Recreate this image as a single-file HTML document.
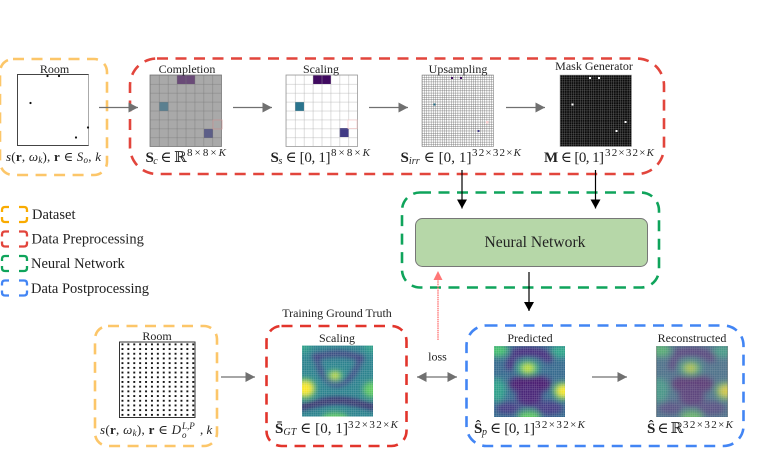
<!DOCTYPE html>
<html><head><meta charset="utf-8"><style>
html,body{margin:0;padding:0;background:#fff}
svg{display:block}
text{font-family:"Liberation Serif","DejaVu Serif",serif;fill:#222}
.l{font-size:12px;text-anchor:middle}
.m{font-size:15px}
.s{font-size:11px}
</style></head><body>
<svg width="781" height="450" viewBox="0 0 781 450" xmlns="http://www.w3.org/2000/svg">
<defs>
<marker id="g" markerUnits="userSpaceOnUse" markerWidth="10" markerHeight="11" refX="9.500" refY="5.500" orient="auto-start-reverse"><path d="M0 0.500L9.500 5.500L0 10.500Z" fill="#707070"/></marker>
<marker id="b" markerUnits="userSpaceOnUse" markerWidth="10" markerHeight="10" refX="9" refY="5" orient="auto"><path d="M0 0L9 5L0 10Z" fill="#000"/></marker>
<pattern id="g8" width="8.94" height="8.94" patternUnits="userSpaceOnUse" x="150" y="75"><path d="M0 0H8.94M0 0V8.94" stroke="#777" stroke-width=".8" fill="none"/></pattern>
<pattern id="s8" width="8.94" height="8.94" patternUnits="userSpaceOnUse" x="286" y="75"><path d="M0 0H8.94M0 0V8.94" stroke="#aaa" stroke-width=".8" fill="none"/></pattern>
<pattern id="u" width="2.23" height="2.23" patternUnits="userSpaceOnUse" x="422" y="75"><path d="M0 0H2.23M0 0V2.23" stroke="#555" stroke-width=".65" fill="none"/></pattern>
<pattern id="mk" width="2.23" height="2.23" patternUnits="userSpaceOnUse" x="560" y="75"><path d="M0 0H2.23M0 0V2.23" stroke="#fff" stroke-opacity=".55" stroke-width=".55" fill="none"/></pattern>
<pattern id="dots" width="5.900" height="4.700" patternUnits="userSpaceOnUse" x="119.500" y="342"><rect x="2" y="1.400" width="1.900" height="1.900" fill="#111"/></pattern>
<pattern id="hg" width="2.23" height="2.23" patternUnits="userSpaceOnUse"><path d="M0 0H2.23M0 0V2.23" stroke="#fff" stroke-opacity=".3" stroke-width=".7" fill="none"/></pattern>
<filter id="bl" x="-30%" y="-30%" width="160%" height="160%"><feGaussianBlur stdDeviation="3"/></filter>
<clipPath id="c1"><rect x="0" y="0" width="71" height="71"/></clipPath>
<g id="gt"><g clip-path="url(#c1)"><rect width="71" height="71" fill="#2c838e"/><g filter="url(#bl)">
<path d="M10 11C22 10 28 8 36 8C44 8 52 10 62 13" stroke="#46307e" stroke-width="5" fill="none"/>
<path d="M15 13C18 30 26 38 35 39C46 38 54 28 58 14" stroke="#443a83" stroke-width="4.500" fill="none"/>
<path d="M-4 62C14 58 24 55 35 55C46 55 58 58 75 62" stroke="#440f62" stroke-width="5" fill="none"/>
<ellipse cx="33" cy="30" rx="8" ry="5.500" fill="#35b779"/><ellipse cx="33" cy="30" rx="4.500" ry="3" fill="#dce319"/>
<ellipse cx="3" cy="43" rx="11" ry="10" fill="#5ec962"/><ellipse cx="3" cy="43" rx="8" ry="7" fill="#fde725"/>
<ellipse cx="70" cy="44" rx="9" ry="8" fill="#5ec962"/>
<ellipse cx="33" cy="73" rx="13" ry="6" fill="#5ec962"/>
<ellipse cx="1" cy="1" rx="8" ry="6" fill="#2fa08a"/><ellipse cx="70" cy="1" rx="8" ry="6" fill="#2fa08a"/>
</g></g><rect width="71" height="71" fill="url(#hg)"/></g>
<g id="pr"><g clip-path="url(#c1)"><rect width="71" height="71" fill="#366a8e"/><g filter="url(#bl)">
<ellipse cx="4" cy="4" rx="10" ry="7" fill="#44bf70"/><ellipse cx="67" cy="5" rx="10" ry="7" fill="#2ea68a"/>
<path d="M18 8C34 3 48 5 58 14" stroke="#472f7d" stroke-width="10" fill="none"/>
<path d="M18 10L15 24" stroke="#46307e" stroke-width="8" fill="none"/>
<ellipse cx="36" cy="38" rx="22" ry="9" fill="#481d6f"/>
<ellipse cx="35" cy="50" rx="13" ry="11" fill="#482878"/>
<ellipse cx="14" cy="62" rx="12" ry="6" fill="#443a83"/><ellipse cx="55" cy="62" rx="14" ry="7" fill="#443a83"/>
<ellipse cx="3" cy="44" rx="9" ry="12" fill="#2fa08a"/>
<ellipse cx="34" cy="22" rx="11" ry="7.500" fill="#35b779"/><ellipse cx="34" cy="22" rx="6" ry="4" fill="#c8e020"/>
<ellipse cx="69" cy="45" rx="10" ry="9" fill="#5ec962"/><ellipse cx="70" cy="45" rx="7" ry="5.500" fill="#fde725"/>
<ellipse cx="35" cy="71" rx="11" ry="6" fill="#5ec962"/>
</g></g><rect width="71" height="71" fill="url(#hg)"/></g>
<path id="lg" fill="none" stroke-width="2.300" d="M9 207H5Q2 207 2 210V212M19 207H24Q27 207 27 210V212M2 217V219Q2 222 5 222H9M27 217V219Q27 222 24 222H19"/>
</defs>

<!-- dashed containers -->
<g fill="none" stroke-width="2.600" stroke-dasharray="11 7.500">
<rect x="0" y="59" width="107" height="116" rx="13" stroke="#fcc669"/>
<rect x="130" y="58.500" width="534" height="115.500" rx="27" stroke="#e2453c"/>
<rect x="402" y="192.500" width="257" height="95" rx="18" stroke="#0fa45b"/>
<rect x="95" y="326" width="122" height="120" rx="13" stroke="#fcc669"/>
<rect x="266.500" y="326" width="140" height="120" rx="15" stroke="#e2352c"/>
<rect x="466.500" y="325.500" width="277" height="120.500" rx="20" stroke="#4285f4"/>
</g>

<!-- room top -->
<rect x="17.500" y="74.500" width="71" height="71" fill="#fff" stroke="#444"/>
<path d="M88.500 74.500V145.500" stroke="#aaa"/>
<g fill="#111"><circle cx="47.500" cy="76" r="1.100"/><circle cx="59" cy="76" r="1.100"/><circle cx="30.500" cy="103" r="1.100"/><circle cx="76" cy="137.500" r="1.100"/><circle cx="88" cy="127.500" r="1.100"/></g>
<text class="l" x="54.500" y="73">Room</text>
<text x="6" y="161" style="font-size:13px" textLength="95" lengthAdjust="spacing"><tspan font-style="italic">s</tspan>(<tspan font-weight="bold">r</tspan>, <tspan font-style="italic">ω<tspan font-size="9" dy="2">k</tspan></tspan><tspan dy="-2">), </tspan><tspan font-weight="bold">r</tspan> ∈ <tspan font-style="italic">S<tspan font-size="9" dy="2">o</tspan></tspan><tspan dy="-2">, </tspan><tspan font-style="italic">k</tspan></text>

<!-- completion -->
<rect x="150" y="75" width="71.500" height="71.500" fill="#a9a9a9"/>
<rect x="177" y="75" width="18" height="9" fill="#6a4b78"/><rect x="159.500" y="102" width="9" height="9" fill="#5b8090"/><rect x="204" y="129" width="9" height="9" fill="#5c5e88"/>
<rect x="150" y="75" width="71.500" height="71.500" fill="url(#g8)" stroke="#777" stroke-width=".8"/>
<rect x="213" y="120" width="9" height="9" fill="none" stroke="#c99" stroke-width=".7"/>
<text class="l" x="187" y="73">Completion</text>
<text class="m" x="145.500" y="162" textLength="41" lengthAdjust="spacing"><tspan font-weight="bold">S</tspan><tspan font-style="italic" font-size="10" dy="2">c</tspan><tspan dy="-2"> ∈ ℝ</tspan></text>
<text class="s" x="187" y="156" textLength="39" lengthAdjust="spacing">8×8×<tspan font-style="italic">K</tspan></text>

<!-- scaling -->
<rect x="286" y="75" width="71.500" height="71.500" fill="#fff"/>
<rect x="313" y="75" width="18" height="9" fill="#400a60"/><rect x="295" y="102" width="9" height="9" fill="#2a748e"/><rect x="339.500" y="128" width="9" height="9" fill="#403a85"/>
<rect x="286" y="75" width="71.500" height="71.500" fill="url(#s8)" stroke="#999" stroke-width=".8"/>
<rect x="348" y="120" width="9" height="8.500" fill="#fff" stroke="#f5c8c8" stroke-width=".7"/>
<text class="l" x="321" y="73">Scaling</text>
<text class="m" x="270.500" y="162" textLength="60" lengthAdjust="spacing"><tspan font-weight="bold">S</tspan><tspan font-style="italic" font-size="10" dy="2">s</tspan><tspan dy="-2"> ∈ [0, 1]</tspan></text>
<text class="s" x="331" y="156" textLength="39" lengthAdjust="spacing">8×8×<tspan font-style="italic">K</tspan></text>

<!-- upsampling -->
<rect x="422" y="75" width="71.500" height="71.500" fill="url(#u)" stroke="#777" stroke-width=".5"/>
<rect x="451" y="77" width="2" height="2" fill="#400a60"/><rect x="460" y="77" width="2" height="2" fill="#400a60"/><rect x="433.500" y="103.500" width="2" height="2" fill="#2a748e"/><rect x="477.500" y="130" width="2" height="2" fill="#403a85"/><rect x="486" y="121" width="2.500" height="2.500" fill="#fbd0d0"/>
<text class="l" x="458" y="73">Upsampling</text>
<text class="m" x="400.500" y="162" textLength="71" lengthAdjust="spacing"><tspan font-weight="bold">S</tspan><tspan font-style="italic" font-size="10" dy="2">irr</tspan><tspan dy="-2"> ∈ [0, 1]</tspan></text>
<text class="s" x="472" y="156" textLength="49" lengthAdjust="spacing">32×32×<tspan font-style="italic">K</tspan></text>

<!-- mask -->
<rect x="560" y="75" width="71.500" height="71.500" fill="#0b0b0b"/><rect x="560" y="75" width="71.500" height="71.500" fill="url(#mk)" stroke="#999" stroke-width=".5"/>
<g fill="#fff"><rect x="589" y="77" width="2" height="2"/><rect x="598" y="77" width="2" height="2"/><rect x="571.500" y="103.500" width="2" height="2"/><rect x="624.500" y="121" width="2" height="2"/><rect x="615.500" y="130" width="2" height="2"/></g>
<text class="l" x="594" y="70">Mask Generator</text>
<text class="m" x="544" y="162" textLength="60" lengthAdjust="spacing"><tspan font-weight="bold">M</tspan> ∈ [0, 1]</text>
<text class="s" x="605" y="156" textLength="49" lengthAdjust="spacing">32×32×<tspan font-style="italic">K</tspan></text>

<!-- gray arrows -->
<g stroke="#707070" stroke-width="1.300" fill="none" marker-end="url(#g)">
<path d="M99 107.500H138"/><path d="M233 107.500H272"/><path d="M369 107.500H408"/><path d="M506 107.500H545"/>
<path d="M221 377H255"/><path d="M592 377H627"/>
</g>
<path d="M417 377H457" stroke="#707070" stroke-width="1.300" fill="none" marker-start="url(#g)" marker-end="url(#g)"/>

<!-- legend -->
<use href="#lg" stroke="#f9ab00"/>
<use href="#lg" y="24.500" stroke="#e2453c"/>
<use href="#lg" y="49" stroke="#0fa45b"/>
<use href="#lg" y="73.500" stroke="#4285f4"/>
<g style="font-size:14.500px">
<text x="32" y="219">Dataset</text>
<text x="31.500" y="243.500">Data Preprocessing</text>
<text x="31" y="268">Neural Network</text>
<text x="31" y="293">Data Postprocessing</text>
</g>

<!-- NN -->
<rect x="415.500" y="218.500" width="232" height="48" rx="7" fill="#b6d7a8" stroke="#777"/>
<text x="535" y="247" text-anchor="middle" style="font-size:15.600px">Neural Network</text>
<g stroke="#000" stroke-width="1.200" fill="none" marker-end="url(#b)">
<path d="M462 170V208.500"/><path d="M595.500 170V208.500"/><path d="M529 272V311"/>
</g>
<path d="M438 340V278" stroke="#ff8a8a" stroke-width="1.600" stroke-dasharray="1.500 .7" fill="none"/>
<path d="M433.500 280L438 271L442.500 280Z" fill="#f77"/>
<text x="437.500" y="360.500" text-anchor="middle" style="font-size:12px">loss</text>

<!-- bottom room -->
<rect x="119.500" y="342" width="75.500" height="75.500" fill="url(#dots)" stroke="#333"/>
<text class="l" x="157" y="340">Room</text>
<text x="100" y="434" style="font-size:13px" textLength="81" lengthAdjust="spacing"><tspan font-style="italic">s</tspan>(<tspan font-weight="bold">r</tspan>, <tspan font-style="italic">ω<tspan font-size="9" dy="2">k</tspan></tspan><tspan dy="-2">), </tspan><tspan font-weight="bold">r</tspan> ∈ <tspan font-style="italic">D</tspan></text>
<text x="182" y="429" font-style="italic" style="font-size:9px">L,P</text>
<text x="182" y="438" font-style="italic" style="font-size:9px">o</text>
<text x="200" y="434" style="font-size:13px">, <tspan font-style="italic">k</tspan></text>

<!-- GT -->
<text class="l" x="337" y="317">Training Ground Truth</text>
<text class="l" x="337" y="342">Scaling</text>
<use href="#gt" x="302" y="345.500"/>
<text class="m" x="275" y="433" textLength="73" lengthAdjust="spacing"><tspan font-weight="bold">S̄</tspan><tspan font-style="italic" font-size="10" dy="2">GT</tspan><tspan dy="-2"> ∈ [0, 1]</tspan></text>
<text class="s" x="348" y="428" textLength="50" lengthAdjust="spacing">32×32×<tspan font-style="italic">K</tspan></text>

<!-- predicted -->
<text class="l" x="530" y="342">Predicted</text>
<use href="#pr" x="494" y="346"/>
<text class="m" x="474" y="433" textLength="61" lengthAdjust="spacing"><tspan font-weight="bold">Ŝ</tspan><tspan font-style="italic" font-size="10" dy="2">p</tspan><tspan dy="-2"> ∈ [0, 1]</tspan></text>
<text class="s" x="535" y="428" textLength="50" lengthAdjust="spacing">32×32×<tspan font-style="italic">K</tspan></text>

<!-- reconstructed -->
<text class="l" x="692" y="342">Reconstructed</text>
<rect x="656" y="346" width="72" height="71" fill="#8a8a8a"/>
<use href="#pr" x="656.500" y="346" opacity=".68"/>
<text class="m" x="647" y="433" textLength="36" lengthAdjust="spacing"><tspan font-weight="bold">Ŝ</tspan> ∈ ℝ</text>
<text class="s" x="683" y="428" textLength="50" lengthAdjust="spacing">32×32×<tspan font-style="italic">K</tspan></text>
</svg>
</body></html>
